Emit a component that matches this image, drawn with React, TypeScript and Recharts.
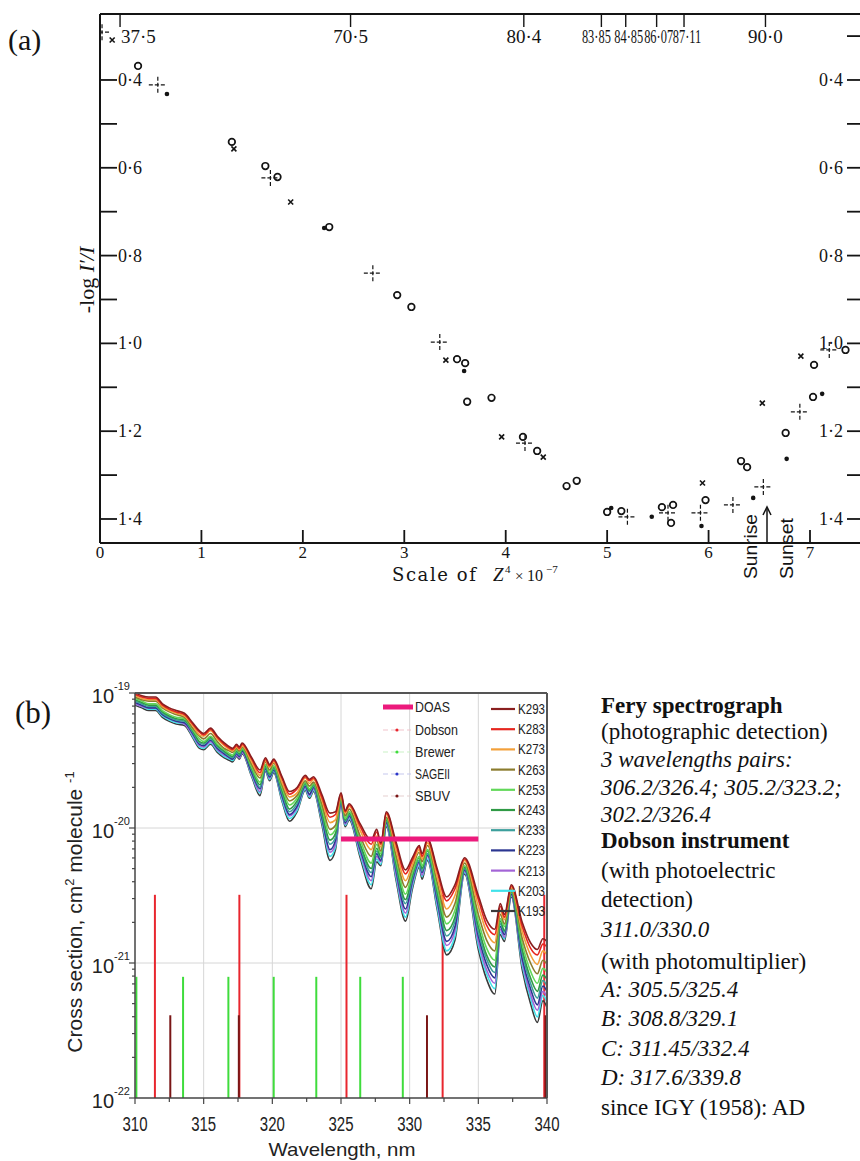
import React from "react";
import {
  CartesianGrid,
  ComposedChart,
  Line,
  ReferenceLine,
  Scatter,
  ScatterChart,
  XAxis,
  YAxis,
} from "recharts";

const INK = "#141414";
const SERIF = "'Liberation Serif', 'Times New Roman', serif";
const OLD_SERIF = "'DejaVu Serif', 'Liberation Serif', serif";
const SANS = "'Liberation Sans', Arial, sans-serif";

// ---------- (a) -log I'/I against Z^4 x 10^-7 ----------
const CIRCLES: [number, number][] = [
  [0.375, 0.368], [1.3, 0.541], [1.63, 0.596], [1.75, 0.621], [2.26, 0.735],
  [2.93, 0.89], [3.07, 0.917], [3.52, 1.036], [3.6, 1.045], [3.62, 1.133],
  [3.86, 1.124], [4.17, 1.213], [4.31, 1.245], [4.6, 1.325], [4.7, 1.313],
  [5.0, 1.384], [5.14, 1.382], [5.54, 1.373], [5.65, 1.368], [5.63, 1.409],
  [5.97, 1.357], [6.32, 1.268], [6.38, 1.282], [6.76, 1.204], [7.03, 1.122],
  [7.04, 1.049], [7.35, 1.015],
];
const CROSSES: [number, number][] = [
  [0.12, 0.309], [1.32, 0.557], [1.88, 0.678], [3.41, 1.038], [3.96, 1.213],
  [4.37, 1.259], [5.94, 1.318], [6.53, 1.136], [6.91, 1.029],
];
const PLUSES: [number, number][] = [
  [0.02, 0.291], [0.57, 0.411], [1.68, 0.623], [2.69, 0.84], [3.35, 0.997],
  [4.19, 1.227], [5.2, 1.395], [5.6, 1.386], [5.92, 1.386], [6.24, 1.368],
  [6.54, 1.327], [6.9, 1.156], [7.19, 1.015],
];
const DOTS: [number, number][] = [
  [0.66, 0.432], [2.21, 0.737], [3.59, 1.063], [5.04, 1.375], [5.44, 1.395],
  [5.93, 1.416], [6.44, 1.352], [6.77, 1.263], [7.12, 1.115],
];

const ZENITH_DEG = [37.5, 70.5, 80.4, 83.85, 84.85, 86.07, 87.11, 90.0];
const ZENITH_LABELS = ["37·5", "70·5", "80·4", "83·85", "84·85", "86·07", "87·11", "90·0"];
const Z4_TICKS = [0, 1, 2, 3, 4, 5, 6, 7];
const LOG_TICKS_LEFT = [0.4, 0.5, 0.6, 0.7, 0.8, 0.9, 1.0, 1.1, 1.2, 1.3, 1.4];
const LOG_TICKS_RIGHT = [0.3, 0.4, 0.5, 0.6, 0.7, 0.8, 0.9, 1.0, 1.1, 1.2, 1.3, 1.4];
const LOG_LABELS = [0.4, 0.6, 0.8, 1.0, 1.2, 1.4];

// zenith angle -> position on the Z^4 scale
const Z4_OF_ZENITH = ZENITH_DEG.map((z) => Math.pow(z, 4) / 1e7);

// ---------- (b) O3 cross sections, log10(sigma / 1e-21 cm2) ----------
const WAVELENGTH = [
  310.0, 310.5, 311.0, 311.5, 312.0, 312.5, 313.0, 313.6, 314.2, 314.7,
  315.0, 315.5, 316.0, 316.5, 316.9, 317.1, 317.4, 317.6, 317.8, 318.5,
  319.1, 319.5, 319.8, 320.1, 320.7, 321.25, 321.8, 322.4, 322.7, 323.0,
  323.6, 324.2, 324.6, 325.0, 325.3, 325.6, 326.4, 327.2, 327.6, 327.9,
  328.3, 329.0, 329.7, 330.2, 330.7, 330.9, 331.3, 332.0, 332.7, 333.3,
  334.0, 335.0, 335.6, 336.2, 336.6, 336.9, 337.4, 338.2, 338.8, 339.3,
  339.7, 340.0,
];
const K293 = [
  2.00, 1.98, 1.97, 1.97, 1.92, 1.89, 1.87, 1.85, 1.78, 1.72,
  1.70, 1.74, 1.68, 1.63, 1.60, 1.59, 1.62, 1.60, 1.63, 1.52,
  1.43, 1.52, 1.47, 1.51, 1.38, 1.27, 1.30, 1.39, 1.36, 1.38,
  1.25, 1.11, 1.12, 1.26, 1.13, 1.18, 1.03, 0.91, 0.99, 0.89,
  1.12, 0.90, 0.69, 0.78, 0.87, 0.81, 0.92, 0.70, 0.49, 0.58,
  0.78, 0.50, 0.32, 0.25, 0.44, 0.36, 0.58, 0.30, 0.15, 0.10,
  0.18, 0.16,
];
const K283 = [
  1.99, 1.97, 1.96, 1.96, 1.91, 1.88, 1.86, 1.84, 1.77, 1.71,
  1.69, 1.73, 1.67, 1.62, 1.59, 1.58, 1.61, 1.59, 1.62, 1.51,
  1.41, 1.51, 1.46, 1.50, 1.37, 1.25, 1.29, 1.38, 1.35, 1.37,
  1.23, 1.08, 1.10, 1.25, 1.12, 1.17, 1.01, 0.88, 0.97, 0.88,
  1.11, 0.88, 0.66, 0.76, 0.86, 0.79, 0.91, 0.68, 0.46, 0.55,
  0.77, 0.47, 0.28, 0.21, 0.42, 0.34, 0.57, 0.27, 0.11, 0.06,
  0.14, 0.12,
];
const K273 = [
  1.98, 1.96, 1.95, 1.95, 1.90, 1.87, 1.85, 1.83, 1.76, 1.69,
  1.68, 1.72, 1.66, 1.61, 1.58, 1.57, 1.60, 1.58, 1.61, 1.49,
  1.39, 1.50, 1.45, 1.49, 1.34, 1.23, 1.26, 1.37, 1.33, 1.36,
  1.21, 1.04, 1.06, 1.24, 1.11, 1.16, 0.98, 0.84, 0.94, 0.86,
  1.10, 0.84, 0.61, 0.73, 0.84, 0.77, 0.89, 0.64, 0.40, 0.50,
  0.76, 0.42, 0.23, 0.15, 0.39, 0.32, 0.56, 0.23, 0.06, -0.01,
  0.09, 0.06,
];
const K263 = [
  1.97, 1.95, 1.94, 1.94, 1.89, 1.86, 1.84, 1.82, 1.74, 1.68,
  1.66, 1.70, 1.64, 1.59, 1.57, 1.56, 1.59, 1.57, 1.60, 1.47,
  1.37, 1.49, 1.43, 1.48, 1.32, 1.20, 1.24, 1.35, 1.31, 1.34,
  1.18, 0.99, 1.02, 1.23, 1.09, 1.14, 0.94, 0.79, 0.91, 0.83,
  1.08, 0.80, 0.56, 0.70, 0.82, 0.75, 0.87, 0.60, 0.34, 0.44,
  0.74, 0.36, 0.17, 0.09, 0.36, 0.29, 0.55, 0.18, 0.00, -0.08,
  0.02, -0.01,
];
const K253 = [
  1.96, 1.94, 1.92, 1.92, 1.87, 1.84, 1.82, 1.81, 1.73, 1.66,
  1.64, 1.68, 1.62, 1.58, 1.55, 1.54, 1.58, 1.56, 1.59, 1.45,
  1.34, 1.47, 1.41, 1.46, 1.30, 1.17, 1.22, 1.34, 1.29, 1.33,
  1.15, 0.95, 0.99, 1.22, 1.07, 1.12, 0.91, 0.74, 0.88, 0.81,
  1.07, 0.77, 0.51, 0.67, 0.79, 0.72, 0.84, 0.56, 0.29, 0.39,
  0.72, 0.31, 0.11, 0.02, 0.33, 0.27, 0.54, 0.14, -0.06, -0.15,
  -0.04, -0.07,
];
const K243 = [
  1.95, 1.93, 1.91, 1.91, 1.86, 1.83, 1.81, 1.80, 1.72, 1.64,
  1.63, 1.67, 1.61, 1.57, 1.54, 1.53, 1.57, 1.55, 1.58, 1.44,
  1.32, 1.46, 1.40, 1.45, 1.28, 1.14, 1.20, 1.33, 1.28, 1.32,
  1.12, 0.91, 0.96, 1.21, 1.06, 1.11, 0.88, 0.70, 0.85, 0.79,
  1.06, 0.74, 0.47, 0.65, 0.78, 0.70, 0.83, 0.53, 0.24, 0.34,
  0.71, 0.27, 0.06, -0.03, 0.31, 0.24, 0.53, 0.10, -0.11, -0.21,
  -0.09, -0.12,
];
const K233 = [
  1.94, 1.92, 1.90, 1.90, 1.85, 1.82, 1.80, 1.79, 1.71, 1.63,
  1.62, 1.66, 1.60, 1.56, 1.53, 1.52, 1.56, 1.54, 1.58, 1.43,
  1.30, 1.45, 1.39, 1.44, 1.26, 1.12, 1.18, 1.32, 1.27, 1.31,
  1.10, 0.88, 0.93, 1.20, 1.05, 1.10, 0.86, 0.67, 0.83, 0.78,
  1.05, 0.71, 0.44, 0.63, 0.76, 0.68, 0.81, 0.50, 0.20, 0.31,
  0.70, 0.23, 0.03, -0.07, 0.29, 0.23, 0.52, 0.07, -0.15, -0.26,
  -0.13, -0.17,
];
const K223 = [
  1.93, 1.91, 1.89, 1.89, 1.84, 1.81, 1.79, 1.78, 1.70, 1.62,
  1.61, 1.65, 1.59, 1.55, 1.52, 1.51, 1.55, 1.53, 1.57, 1.41,
  1.29, 1.44, 1.38, 1.43, 1.24, 1.10, 1.16, 1.31, 1.25, 1.30,
  1.08, 0.84, 0.91, 1.19, 1.04, 1.09, 0.84, 0.64, 0.81, 0.76,
  1.04, 0.69, 0.40, 0.61, 0.75, 0.67, 0.80, 0.47, 0.16, 0.27,
  0.69, 0.20, -0.01, -0.11, 0.27, 0.21, 0.51, 0.03, -0.19, -0.31,
  -0.17, -0.21,
];
const K213 = [
  1.92, 1.90, 1.89, 1.89, 1.84, 1.81, 1.79, 1.77, 1.69, 1.61,
  1.60, 1.64, 1.58, 1.54, 1.52, 1.51, 1.54, 1.52, 1.56, 1.40,
  1.27, 1.44, 1.37, 1.43, 1.23, 1.09, 1.15, 1.30, 1.24, 1.29,
  1.07, 0.82, 0.88, 1.18, 1.03, 1.08, 0.82, 0.61, 0.79, 0.75,
  1.03, 0.66, 0.37, 0.59, 0.74, 0.65, 0.79, 0.45, 0.13, 0.24,
  0.68, 0.16, -0.05, -0.15, 0.25, 0.19, 0.50, 0.01, -0.23, -0.35,
  -0.21, -0.25,
];
const K203 = [
  1.92, 1.90, 1.88, 1.88, 1.83, 1.80, 1.78, 1.77, 1.68, 1.60,
  1.59, 1.63, 1.57, 1.53, 1.51, 1.50, 1.54, 1.52, 1.56, 1.39,
  1.26, 1.43, 1.36, 1.42, 1.21, 1.07, 1.13, 1.29, 1.23, 1.28,
  1.05, 0.79, 0.86, 1.18, 1.02, 1.07, 0.80, 0.58, 0.77, 0.73,
  1.02, 0.64, 0.34, 0.57, 0.72, 0.64, 0.77, 0.42, 0.09, 0.20,
  0.67, 0.13, -0.08, -0.19, 0.23, 0.18, 0.50, -0.02, -0.26, -0.40,
  -0.24, -0.29,
];
const K193 = [
  1.91, 1.89, 1.87, 1.87, 1.82, 1.79, 1.77, 1.76, 1.67, 1.59,
  1.58, 1.62, 1.56, 1.52, 1.50, 1.49, 1.53, 1.51, 1.55, 1.38,
  1.24, 1.42, 1.35, 1.41, 1.20, 1.05, 1.12, 1.28, 1.22, 1.27,
  1.03, 0.76, 0.84, 1.17, 1.01, 1.06, 0.78, 0.55, 0.75, 0.72,
  1.01, 0.62, 0.31, 0.55, 0.71, 0.62, 0.76, 0.40, 0.06, 0.17,
  0.66, 0.10, -0.12, -0.23, 0.21, 0.16, 0.49, -0.05, -0.30, -0.44,
  -0.28, -0.33,
];

const TEMP_NAMES = ["K293", "K283", "K273", "K263", "K253", "K243", "K233", "K223", "K213", "K203", "K193"];
const TEMP_VALUES = [K293, K283, K273, K263, K253, K243, K233, K223, K213, K203, K193];
const TEMP_COLORS = [
  "#8a1f1f", "#e6261f", "#f3a03a", "#8b7c2e", "#62d85a", "#2f9a45",
  "#3c9f9c", "#2b3691", "#a364d6", "#41e2ea", "#3a3a3a",
];

// instrument wavelengths (nm) and bar heights (cm2 molecule-1)
const DOBSON_NM = [311.45, 317.6, 325.4, 332.4, 339.8];
const DOBSON_TOP = 3.2e-21;
const BREWER_NM = [310.1, 313.5, 316.8, 320.1, 323.2, 326.4, 329.5];
const BREWER_TOP = 7.9e-22;
const SBUV_NM = [312.57, 317.56, 331.26, 339.89];
const SBUV_TOP = 4.1e-22;
const DOAS_RANGE = [325, 335];
const DOAS_LEVEL = 8.3e-21;

const X_TICKS_B = [310, 312.5, 315, 317.5, 320, 322.5, 325, 327.5, 330, 332.5, 335, 337.5, 340];
const Y_TICKS_B: number[] = [];
[-22, -21, -20].forEach((d) => {
  for (let m = 1; m < 10; m++) Y_TICKS_B.push(m * Math.pow(10, d));
});
Y_TICKS_B.push(1e-19);

const NOTE_TEXT = [
  "Fery spectrograph",
  "(photographic detection)",
  "3 wavelengths pairs:",
  "306.2/326.4; 305.2/323.2;",
  "302.2/326.4",
  "Dobson instrument",
  "(with photoelectric",
  "detection)",
  "311.0/330.0",
  "(with photomultiplier)",
  "A: 305.5/325.4",
  "B: 308.8/329.1",
  "C: 311.45/332.4",
  "D: 317.6/339.8",
  "since IGY (1958): AD",
];
const NOTE_STYLE = ["b", "r", "i", "i", "i", "b", "r", "r", "i", "r", "i", "i", "i", "i", "r"];
const NOTE_BASE = [713, 739, 767, 795, 822, 848, 878, 907, 937, 969, 997, 1026, 1056, 1085, 1115];

const spectra = WAVELENGTH.map((w, i) => {
  const row: Record<string, number> = { w };
  TEMP_NAMES.forEach((name, k) => {
    row[name] = Math.pow(10, TEMP_VALUES[k][i] - 21);
  });
  return row;
});

const toPoints = (pts: [number, number][]) => pts.map(([x, y]) => ({ x, y }));
const near = (a: number, b: number) => Math.abs(a - b) < 1e-6;
const dotted = (v: number) => v.toFixed(1).replace(".", "·");

// ---------- marker shapes for (a) ----------
const ringShape = (p: any) => (
  <circle cx={p.cx} cy={p.cy} r={3.3} fill="none" stroke={INK} strokeWidth={1.7} />
);
const crossShape = (p: any) => {
  const s = 2.5;
  return (
    <path
      d={`M${p.cx - s},${p.cy - s}L${p.cx + s},${p.cy + s}M${p.cx - s},${p.cy + s}L${p.cx + s},${p.cy - s}`}
      stroke={INK}
      strokeWidth={1.6}
    />
  );
};
const plusShape = (p: any) => (
  <g stroke={INK} strokeWidth={1.2} strokeDasharray="4 2">
    <line x1={p.cx - 9} x2={p.cx + 9} y1={p.cy} y2={p.cy} />
    <line x1={p.cx} x2={p.cx} y1={p.cy - 8} y2={p.cy + 8} />
  </g>
);
const dotShape = (p: any) => <circle cx={p.cx} cy={p.cy} r={2.3} fill={INK} />;

// ---------- ticks for (a) ----------
function LeftTickA({ x, y, payload }: any) {
  const v = payload.value;
  return (
    <g>
      <line x1={x} x2={x + 17} y1={y} y2={y} stroke={INK} strokeWidth={1.8} />
      {LOG_LABELS.some((l) => near(l, v)) && (
        <text x={x + 18} y={y + 6} fontSize={18} fontFamily={SERIF} fill={INK}>
          {dotted(v)}
        </text>
      )}
    </g>
  );
}

function RightTickA({ x, y, payload }: any) {
  const v = payload.value;
  return (
    <g>
      <line x1={x - 13} x2={x} y1={y} y2={y} stroke={INK} strokeWidth={1.8} />
      {LOG_LABELS.some((l) => near(l, v)) && (
        <text x={x - 17} y={y + 6} textAnchor="end" fontSize={18} fontFamily={SERIF} fill={INK}>
          {dotted(v)}
        </text>
      )}
    </g>
  );
}

// the crowded labels sit a little off their ticks in the original
const ZENITH_NUDGE = [0, 0, 0, -5, 3, 2, 3, 0];

function ZenithTick({ x, y, payload }: any) {
  let i = 0;
  Z4_OF_ZENITH.forEach((p, k) => {
    if (Math.abs(p - payload.value) < Math.abs(Z4_OF_ZENITH[i] - payload.value)) i = k;
  });
  const label = ZENITH_LABELS[i];
  const crowded = label.length > 4;
  return (
    <g>
      <line x1={x} x2={x} y1={y} y2={y + 13} stroke={INK} strokeWidth={1.4} />
      {crowded ? (
        <text
          transform={`translate(${x + ZENITH_NUDGE[i]},${y + 29}) scale(1,1.45)`}
          textAnchor="middle"
          fontSize={12.4}
          fontFamily={SERIF}
          fill={INK}
        >
          {label}
        </text>
      ) : (
        <text
          x={i === 0 ? x + 1 : x}
          y={y + 29}
          textAnchor={i === 0 ? "start" : "middle"}
          fontSize={19}
          fontFamily={SERIF}
          fill={INK}
        >
          {label}
        </text>
      )}
    </g>
  );
}

function BottomTickA({ x, y, payload }: any) {
  const v = payload.value;
  return (
    <g>
      {v > 0 && <line x1={x} x2={x} y1={y} y2={y - 13} stroke={INK} strokeWidth={1.8} />}
      <text x={x} y={y + 15} textAnchor="middle" fontSize={17} fontFamily={SERIF} fill={INK}>
        {v}
      </text>
    </g>
  );
}

// ---------- ticks for (b) ----------
function BottomTickB({ x, y, payload }: any) {
  const v = payload.value;
  const major = near(v % 5, 0);
  return (
    <g>
      <line x1={x} x2={x} y1={y} y2={y + (major ? 6 : 4)} stroke="#444" strokeWidth={1.2} />
      {major && (
        <text
          x={x}
          y={y + 33}
          textAnchor="middle"
          fontSize={20}
          fontFamily={SANS}
          fill="#222"
          textLength={25}
          lengthAdjust="spacingAndGlyphs"
        >
          {v}
        </text>
      )}
    </g>
  );
}

function LeftTickB({ x, y, payload }: any) {
  const e = Math.log10(payload.value);
  const major = Math.abs(e - Math.round(e)) < 1e-6;
  return (
    <g>
      <line x1={x - (major ? 6 : 3)} x2={x} y1={y} y2={y} stroke="#444" strokeWidth={1.2} />
      {major && (
        <text x={x - 5} y={y + 10} textAnchor="end" fontSize={20} fontFamily={SANS} fill="#222">
          10
          <tspan dy={-13} fontSize={11}>
            {Math.round(e)}
          </tspan>
        </text>
      )}
    </g>
  );
}

const narrow = (w: number) => ({ textLength: w, lengthAdjust: "spacingAndGlyphs" as const });

export default function App() {
  const yDomainA = [0.2497, 1.4547];
  const xDomainA = [0, 7.493];

  return (
    <div
      style={{
        position: "absolute",
        left: 0,
        top: 0,
        width: 860,
        height: 1161,
        background: "#fff",
        overflow: "hidden",
      }}
    >
      <div style={{ position: "absolute", left: 0, top: 0 }}>
        <ScatterChart width={861} height={600} margin={{ top: 13, right: 0, bottom: 56, left: 99 }}>
          <XAxis
            xAxisId="bottom"
            dataKey="x"
            type="number"
            orientation="bottom"
            domain={xDomainA}
            allowDataOverflow
            ticks={Z4_TICKS}
            interval={0}
            height={1}
            tickSize={0}
            tickMargin={0}
            tickLine={false}
            tick={(p: any) => <BottomTickA {...p} />}
            axisLine={{ stroke: INK, strokeWidth: 2 }}
          />
          <XAxis
            xAxisId="top"
            dataKey="x"
            type="number"
            orientation="top"
            domain={xDomainA}
            allowDataOverflow
            ticks={Z4_OF_ZENITH}
            interval={0}
            height={1}
            tickSize={0}
            tickMargin={0}
            tickLine={false}
            tick={(p: any) => <ZenithTick {...p} />}
            axisLine={{ stroke: INK, strokeWidth: 2 }}
          />
          <YAxis
            yAxisId="left"
            dataKey="y"
            type="number"
            reversed
            domain={yDomainA}
            allowDataOverflow
            ticks={LOG_TICKS_LEFT}
            interval={0}
            width={1}
            tickSize={0}
            tickMargin={0}
            tickLine={false}
            tick={(p: any) => <LeftTickA {...p} />}
            axisLine={{ stroke: INK, strokeWidth: 2 }}
          />
          <YAxis
            yAxisId="right"
            dataKey="y"
            orientation="right"
            type="number"
            reversed
            domain={yDomainA}
            allowDataOverflow
            ticks={LOG_TICKS_RIGHT}
            interval={0}
            width={1}
            tickSize={0}
            tickMargin={0}
            tickLine={false}
            tick={(p: any) => <RightTickA {...p} />}
            axisLine={false}
          />
          <Scatter xAxisId="bottom" yAxisId="left" data={toPoints(CIRCLES)} shape={ringShape} isAnimationActive={false} />
          <Scatter xAxisId="bottom" yAxisId="left" data={toPoints(CROSSES)} shape={crossShape} isAnimationActive={false} />
          <Scatter xAxisId="top" yAxisId="left" data={toPoints(PLUSES)} shape={plusShape} isAnimationActive={false} />
          <Scatter xAxisId="top" yAxisId="right" data={toPoints(DOTS)} shape={dotShape} isAnimationActive={false} />
        </ScatterChart>
      </div>

      <div style={{ position: "absolute", left: 0, top: 600 }}>
        <ComposedChart width={600} height={561} data={spectra} margin={{ top: 93, right: 53, bottom: 62, left: 134 }}>
          <CartesianGrid
            stroke="#d6d6d6"
            strokeWidth={1}
            verticalValues={[315, 320, 325, 330, 335]}
            horizontalValues={[1e-21, 1e-20]}
          />
          <XAxis
            dataKey="w"
            type="number"
            domain={[310, 340]}
            allowDataOverflow
            ticks={X_TICKS_B}
            interval={0}
            height={1}
            tickSize={0}
            tickMargin={0}
            tickLine={false}
            tick={(p: any) => <BottomTickB {...p} />}
            axisLine={{ stroke: "#444", strokeWidth: 1.5 }}
          />
          <YAxis
            type="number"
            scale="log"
            domain={[1e-22, 1e-19]}
            allowDataOverflow
            ticks={Y_TICKS_B}
            interval={0}
            width={1}
            tickSize={0}
            tickMargin={0}
            tickLine={false}
            tick={(p: any) => <LeftTickB {...p} />}
            axisLine={{ stroke: "#444", strokeWidth: 1.5 }}
          />
          {BREWER_NM.map((w) => (
            <ReferenceLine
              key={`br${w}`}
              segment={[{ x: w, y: 1e-22 }, { x: w, y: BREWER_TOP }]}
              stroke="#3fdc3c"
              strokeWidth={2}
              ifOverflow="visible"
            />
          ))}
          {DOBSON_NM.map((w) => (
            <ReferenceLine
              key={`db${w}`}
              segment={[{ x: w, y: 1e-22 }, { x: w, y: DOBSON_TOP }]}
              stroke="#e8262e"
              strokeWidth={2}
              ifOverflow="visible"
            />
          ))}
          {SBUV_NM.map((w) => (
            <ReferenceLine
              key={`sb${w}`}
              segment={[{ x: w, y: 1e-22 }, { x: w, y: SBUV_TOP }]}
              stroke="#7a1616"
              strokeWidth={2}
              ifOverflow="visible"
            />
          ))}
          {TEMP_NAMES.slice()
            .reverse()
            .map((name) => (
              <Line
                key={name}
                dataKey={name}
                type="monotone"
                stroke={TEMP_COLORS[TEMP_NAMES.indexOf(name)]}
                strokeWidth={1.6}
                dot={false}
                isAnimationActive={false}
              />
            ))}
          <ReferenceLine
            segment={[{ x: DOAS_RANGE[0], y: DOAS_LEVEL }, { x: DOAS_RANGE[1], y: DOAS_LEVEL }]}
            stroke="#ec1a7c"
            strokeWidth={5}
            ifOverflow="visible"
          />
          <ReferenceLine y={1e-19} stroke="#555" strokeWidth={2} ifOverflow="visible" />
          <ReferenceLine x={340} stroke="#555" strokeWidth={2} ifOverflow="visible" />
        </ComposedChart>
      </div>

      <svg
        width={860}
        height={1161}
        style={{ position: "absolute", left: 0, top: 0, pointerEvents: "none" }}
      >
        {/* panel (a) annotations */}
        <text x={8} y={50} fontSize={30} fontFamily={SERIF} fill={INK}>
          (a)
        </text>
        <text
          transform="translate(94,280) rotate(-90)"
          textAnchor="middle"
          fontSize={22}
          fontFamily={SERIF}
          fill={INK}
        >
          -log <tspan fontStyle="italic">I′/I</tspan>
        </text>
        <text x={392} y={581} fontSize={18} fontFamily={OLD_SERIF} fill={INK} letterSpacing={1.6}>
          Scale of
        </text>
        <text x={493} y={581} fontSize={19} fontFamily={SERIF} fontStyle="italic" fill={INK}>
          Z
        </text>
        <text x={505} y={573} fontSize={11} fontFamily={SERIF} fill={INK}>
          4
        </text>
        <text x={515} y={581} fontSize={15} fontFamily={SERIF} fill={INK}>
          ×
        </text>
        <text x={527} y={581} fontSize={16} fontFamily={SERIF} fill={INK}>
          10
        </text>
        <text x={546} y={573} fontSize={11} fontFamily={SERIF} fill={INK}>
          −7
        </text>
        <line x1={767} x2={767} y1={543} y2={509} stroke={INK} strokeWidth={1.5} />
        <path d="M763,515 L767,507 L771,515" fill="none" stroke={INK} strokeWidth={1.5} />
        <text transform="translate(757,579) rotate(-90)" fontSize={19} fontFamily={SANS} fill={INK} {...narrow(65)}>
          Sunrise
        </text>
        <text transform="translate(793,579) rotate(-90)" fontSize={19} fontFamily={SANS} fill={INK} {...narrow(61)}>
          Sunset
        </text>

        {/* panel (b) annotations */}
        <text x={15} y={723} fontSize={31} fontFamily={SERIF} fill={INK}>
          (b)
        </text>
        <text
          transform="translate(82,912) rotate(-90)"
          textAnchor="middle"
          fontSize={21}
          fontFamily={SANS}
          fill="#222"
        >
          Cross section, cm
          <tspan dy={-8} fontSize={13}>
            2
          </tspan>
          <tspan dy={8}> molecule </tspan>
          <tspan dy={-8} fontSize={13}>
            -1
          </tspan>
        </text>
        <text x={342} y={1156} textAnchor="middle" fontSize={19} fontFamily={SANS} fill="#222" {...narrow(147)}>
          Wavelength, nm
        </text>

        {/* legend: instruments */}
        <line x1={383} x2={413} y1={707} y2={707} stroke="#ec1a7c" strokeWidth={5} />
        <text x={415} y={712} fontSize={15} fontFamily={SANS} fill="#222" {...narrow(35)}>
          DOAS
        </text>
        {[
          ["Dobson", 730, "#f2c4cc", "#e8262e", 43],
          ["Brewer", 752, "#c9f2c6", "#3fdc3c", 40],
          ["SAGEII", 774, "#c6c8ee", "#2b36c9", 35],
          ["SBUV", 796, "#e6d0d0", "#7a1616", 35],
        ].map(([name, y, faint, dot, w]: any) => (
          <g key={name}>
            <line x1={383} x2={411} y1={y} y2={y} stroke={faint} strokeWidth={1.2} strokeDasharray="5 3" />
            <circle cx={397} cy={y} r={1.6} fill={dot} />
            <text x={415} y={y + 5} fontSize={15} fontFamily={SANS} fill="#222" {...narrow(w)}>
              {name}
            </text>
          </g>
        ))}

        {/* legend: temperatures */}
        {TEMP_NAMES.map((name, k) => (
          <g key={name}>
            <line x1={491} x2={515} y1={709 + k * 20.2} y2={709 + k * 20.2} stroke={TEMP_COLORS[k]} strokeWidth={2.2} />
            <text x={518} y={709 + k * 20.2 + 5} fontSize={14} fontFamily={SANS} fill="#222" {...narrow(27)}>
              {name}
            </text>
          </g>
        ))}

        {/* notes */}
        {NOTE_TEXT.map((t, i) => (
          <text
            key={t}
            x={601}
            y={NOTE_BASE[i]}
            fontSize={23}
            fontFamily={SERIF}
            fontWeight={NOTE_STYLE[i] === "b" ? 700 : 400}
            fontStyle={NOTE_STYLE[i] === "i" ? "italic" : "normal"}
            fill="#111"
          >
            {t}
          </text>
        ))}
      </svg>
    </div>
  );
}
